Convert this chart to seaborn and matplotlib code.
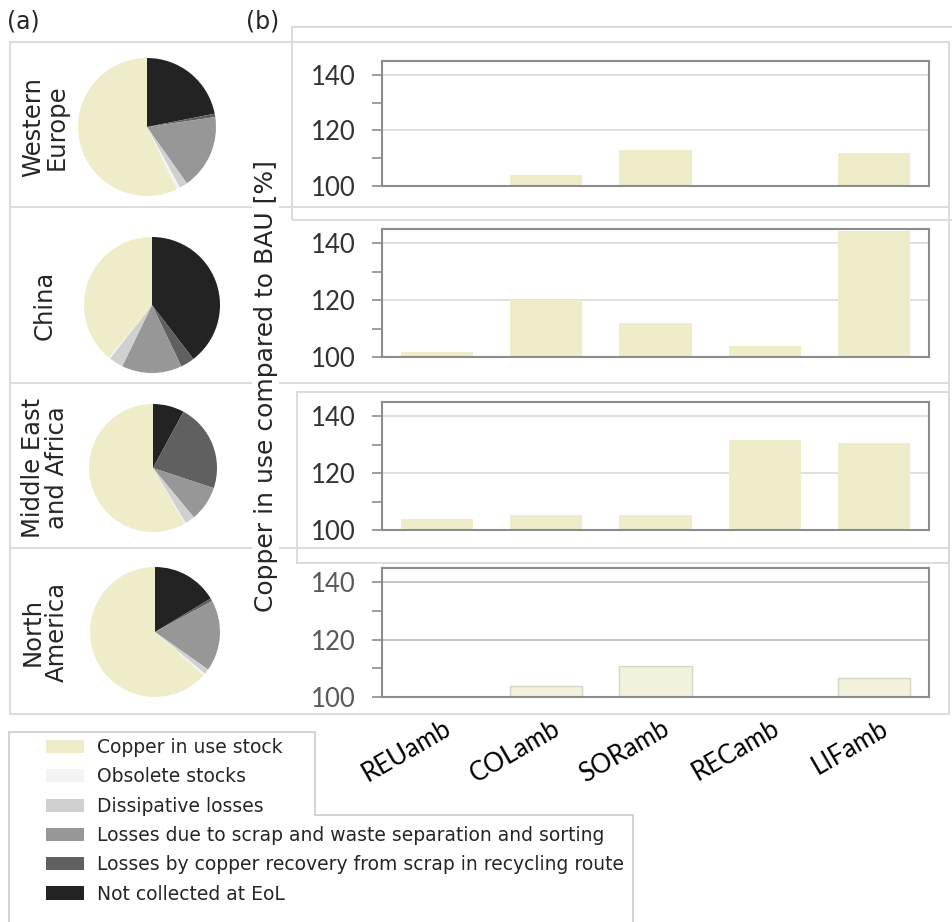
"""
Copper flows by region (pies) and copper in use compared to BAU
for five ambitious scenarios (bars), one row per region.
"""

import matplotlib
matplotlib.use('Agg')
import matplotlib.pyplot as plt
import matplotlib.transforms as mtransforms
from matplotlib.patches import Patch, Rectangle, Polygon
from matplotlib.lines import Line2D
import seaborn as sns

W, H = 953, 922

regions = ['Western\nEurope', 'China', 'Middle East\nand Africa',
           'North\nAmerica']
flows = ['Copper in use stock', 'Obsolete stocks', 'Dissipative losses',
         'Losses due to scrap and waste separation and sorting',
         'Losses by copper recovery from scrap in recycling route',
         'Not collected at EoL']
flow_colors = ['#EFEDC9', '#F4F4F4', '#D0D0D0', '#979797', '#606060',
               '#232323']

# pie shares [%], same order as flows
share_we = [57.1, 0.8, 1.9, 17.5, 0.8, 21.9]
share_cn = [39.1, 0.3, 3.4, 14.3, 3.3, 39.6]
share_mea = [58.2, 0.3, 2.5, 8.9, 22.2, 7.9]
share_na = [63.4, 0.5, 1.3, 17.7, 0.7, 16.4]

scenarios = ['REUamb', 'COLamb', 'SORamb', 'RECamb', 'LIFamb']
cu_we = [100.0, 104.1, 112.8, 100.0, 111.8]
cu_cn = [101.6, 120.0, 112.0, 103.7, 144.4]
cu_mea = [103.7, 105.2, 105.2, 131.5, 130.6]
cu_na = [100.0, 103.7, 110.8, 100.0, 106.7]

LINE = '#D9D9D9'


def px_axes(fig, x0, y0, x1, y1):
    """
    Add axes given in pixel coordinates (origin top left)
    """
    return fig.add_axes([x0 / W, 1 - y1 / H, (x1 - x0) / W, (y1 - y0) / H])


def hline(fig, y, x0, x1):
    fig.add_artist(Line2D([x0 / W, x1 / W], [1 - y / H, 1 - y / H],
                          transform=fig.transFigure, color=LINE, lw=1.3))


def vline(fig, x, y0, y1):
    fig.add_artist(Line2D([x / W, x / W], [1 - y0 / H, 1 - y1 / H],
                          transform=fig.transFigure, color=LINE, lw=1.3))


def draw_pie(fig, shares, cx, cy, r):
    ax = px_axes(fig, cx - r, cy - r, cx + r, cy + r)
    ax.pie(shares[::-1], colors=flow_colors[::-1], startangle=90,
           counterclock=False, wedgeprops=dict(linewidth=0))
    ax.set_xlim(-1, 1)
    ax.set_ylim(-1, 1)


def draw_bars(fig, vals, top, bottom, last=False):
    ax = px_axes(fig, 382, top, 929, bottom)
    fc = '#F3F2DC' if last else '#EFEDC9'
    ec = '#D6D6C4' if last else 'none'
    sns.barplot(x=scenarios, y=vals, color=fc, saturation=1, width=0.66,
                edgecolor=ec, linewidth=1, ax=ax)
    ax.set_ylim(100, 145)
    ax.set_xlim(-0.5, 4.5)
    ax.set_yticks([100, 120, 140])
    ax.set_yticks([110, 130], minor=True)
    ax.yaxis.grid(True, which='major',
                  color='#BFBFBF' if last else '#DDDDDD', lw=1.3)
    ax.set_axisbelow(True)
    for s in ax.spines.values():
        s.set_color('#8C8C8C')
        s.set_linewidth(1.5)
    ax.tick_params(axis='y', which='both', left=True, direction='out',
                   length=7, width=1.2, color='#8C8C8C', pad=12,
                   labelsize=18.5,
                   labelcolor='#595959' if last else '#333333')
    for lab in ax.get_yticklabels():
        lab.set_fontfamily('Lato')
    ax.set_xlabel('')
    ax.set_ylabel('')
    if last:
        ax.tick_params(axis='x', bottom=False, pad=10, labelsize=18.5,
                       labelcolor='black')
        shift = mtransforms.ScaledTranslation(6 / 100, 0,
                                              fig.dpi_scale_trans)
        for lab in ax.get_xticklabels():
            lab.set_rotation(30)
            lab.set_ha('right')
            lab.set_va('top')
            lab.set_rotation_mode('anchor')
            lab.set_fontfamily('Lato')
            lab.set_transform(lab.get_transform() + shift)
    else:
        ax.tick_params(axis='x', bottom=False, labelbottom=False)
    return ax


def main():
    sns.set_style('white')
    plt.rcParams['font.family'] = ['DejaVu Sans']
    fig = plt.figure(figsize=(W / 100, H / 100), dpi=100)

    # table grid
    for y in [42, 207, 383, 548, 714]:
        hline(fig, y, 10, 949)
    vline(fig, 10, 42, 714)
    vline(fig, 949, 42, 714)
    # chart area frames
    fig.add_artist(Rectangle((292 / W, 1 - 220 / H), (970 - 292) / W,
                             (220 - 27) / H, transform=fig.transFigure,
                             fill=False, ec=LINE, lw=1.3))
    fig.add_artist(Rectangle((297 / W, 1 - 563 / H), (949 - 297) / W,
                             (563 - 392) / H, transform=fig.transFigure,
                             fill=False, ec=LINE, lw=1.3))

    fig.text(7 / W, 1 - 21 / H, '(a)', fontsize=17, va='center')
    fig.text(246 / W, 1 - 21 / H, '(b)', fontsize=17, va='center')

    shares = [share_we, share_cn, share_mea, share_na]
    pies = [(147, 127, 69), (152, 305, 68), (153, 468, 64), (155, 632, 65)]
    for name, sh, (cx, cy, r) in zip(regions, shares, pies):
        draw_pie(fig, sh, cx, cy, r)
        fig.text(45 / W, 1 - cy / H, name, rotation=90, ha='center',
                 va='center', fontsize=17.5, linespacing=1.0,
                 multialignment='center')

    vals = [cu_we, cu_cn, cu_mea, cu_na]
    boxes = [(61, 186), (229, 357), (402, 530), (568, 697)]
    for i, (v, (t, b)) in enumerate(zip(vals, boxes)):
        draw_bars(fig, v, t, b, last=(i == 3))

    fig.text(266 / W, 1 - 386 / H, 'Copper in use compared to BAU [%]',
             rotation=90, ha='center', va='center', fontsize=18,
             zorder=5, bbox=dict(fc='white', ec='none', pad=1))

    # legend frame with its notch
    pts = [(9, 940), (9, 732), (315, 732), (315, 815), (633, 815),
           (633, 940)]
    fig.add_artist(Polygon([(x / W, 1 - y / H) for x, y in pts],
                           closed=False, fill=False, ec='#D0D0D0', lw=1.3,
                           transform=fig.transFigure))
    handles = [Patch(fc=c, ec='none', label=l)
               for c, l in zip(flow_colors, flows)]
    fig.legend(handles=handles, loc='upper left',
               bbox_to_anchor=(46 / W, 1 - 738 / H), frameon=False,
               fontsize=13.5, handlelength=2.0, handleheight=0.7,
               handletextpad=0.7, labelspacing=0.55, borderpad=0,
               borderaxespad=0)

    fig.savefig('out.png', dpi=100)


if __name__ == '__main__':
    main()
